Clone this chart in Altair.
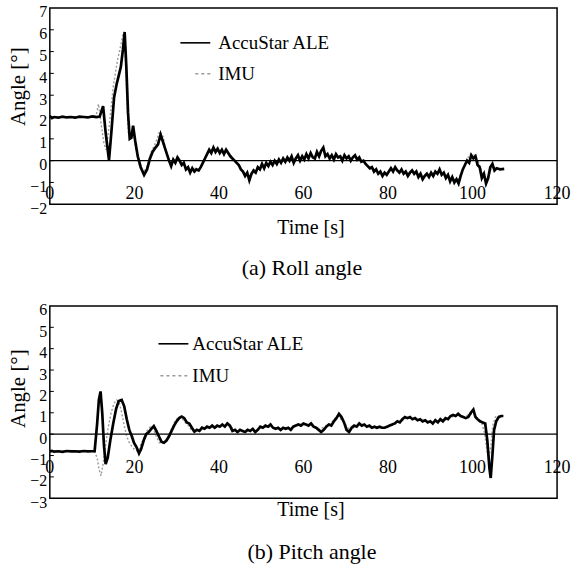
import altair as alt
import pandas as pd

FONT = "Liberation Serif"

# ---------------- data: roll angle ----------------
roll_acc_t = [0,0.5,1,2,3,4,5,6,7,8,9,10,11,11.8,12.6,13.2,14.0,14.6,15.2,15.8,16.3,16.8,17.3,17.7,18.1,18.5,18.9,19.3,19.7,20.2,20.8,21.5,22.3,23.0,23.7,24.3,25.0,25.6,26.2,26.7,27.2,27.7,28.2,28.7,29.2,29.7,30.2,30.7,31.2,31.7,32.2,32.7,33.2,33.7,34.2,34.7,35.2,35.7,36.2,36.7,37.2,37.7,38.2,38.7,39.2,39.7,40.2,40.7,41.2,41.7,42.2,42.7,43.2,43.7,44.2,44.7,45.2,45.7,46.2,46.7,47.2,47.7,48.2,48.7,49.2,49.7,50.2,50.7,51.2,51.7,52.2,52.7,53.2,53.7,54.2,54.7,55.2,55.7,56.2,56.7,57.2,57.7,58.2,58.7,59.2,59.7,60.2,60.7,61.2,61.7,62.2,62.7,63.2,63.7,64.2,64.7,65.2,65.7,66.2,66.7,67.2,67.7,68.2,68.7,69.2,69.7,70.2,70.7,71.2,71.7,72.2,72.7,73.2,73.7,74.2,74.7,75.2,75.7,76.2,76.7,77.2,77.7,78.2,78.7,79.2,79.7,80.2,80.7,81.2,81.7,82.2,82.7,83.2,83.7,84.2,84.7,85.2,85.7,86.2,86.7,87.2,87.7,88.2,88.7,89.2,89.7,90.2,90.7,91.2,91.7,92.2,92.7,93.2,93.7,94.2,94.7,95.2,95.7,96.2,96.7,97.2,97.7,98.2,98.7,99.2,99.7,100.2,100.7,101.2,101.7,102.2,102.7,103.2,103.7,104.2,104.7,105.2,105.7,106.5,107.5]
roll_acc_v = [2.05,1.95,2.0,1.97,2.02,1.98,2.0,1.97,2.02,2.0,1.98,2.03,2.0,2.02,2.5,1.3,0.02,1.4,2.9,3.5,3.9,4.3,5.1,5.9,4.3,2.2,1.0,1.05,1.6,0.9,0.2,-0.3,-0.65,-0.4,0.1,0.4,0.6,0.75,1.2,0.9,0.6,0.3,0.0,-0.25,0.05,-0.1,0.15,0.0,-0.2,-0.1,-0.4,-0.3,-0.55,-0.35,-0.5,-0.4,-0.45,-0.3,-0.1,0.1,0.3,0.5,0.35,0.6,0.4,0.55,0.35,0.5,0.3,0.5,0.35,0.2,0.1,0.0,-0.1,-0.2,-0.4,-0.5,-0.7,-0.55,-0.9,-0.6,-0.45,-0.55,-0.3,-0.4,-0.15,-0.35,-0.1,-0.25,-0.05,-0.2,0.0,-0.15,0.05,-0.1,0.1,-0.05,0.15,0.0,0.2,-0.1,0.1,0.25,0.0,0.2,0.05,0.3,0.1,0.35,0.15,0.1,0.4,0.2,0.45,0.6,0.2,0.3,0.1,0.25,0.05,0.3,0.15,0.2,0.0,0.25,0.1,0.2,0.0,0.15,0.25,0.05,0.15,-0.05,0.0,-0.15,-0.25,-0.35,-0.3,-0.5,-0.4,-0.6,-0.5,-0.7,-0.55,-0.65,-0.5,-0.35,-0.5,-0.3,-0.45,-0.55,-0.4,-0.6,-0.5,-0.7,-0.55,-0.45,-0.6,-0.5,-0.75,-0.6,-0.85,-0.7,-0.6,-0.75,-0.55,-0.7,-0.5,-0.6,-0.4,-0.65,-0.55,-0.8,-0.65,-0.95,-0.75,-1.0,-0.85,-1.05,-0.7,-0.4,-0.2,0.0,-0.1,0.25,0.1,0.2,-0.2,-0.3,-0.8,-0.6,-1.05,-0.8,-0.3,-0.15,-0.45,-0.35,-0.4,-0.38]

roll_imu_t = [0,1,2,3,4,5,6,7,8,9,10,11,11.5,12.2,12.8,13.3,14,15,16,16.8,17.3,17.7,18.2,18.6,19.2,19.8,20.5,21.3,22.2,23,24,25,26,26.8,27.5,28.5,29.5,30.5,31.5,32.5,33.5,34.5,35.5,36.5,37.5,38.5,39.5,40.5,41.5,42.5,43.5,44.5,45.5,46.5,47.5,48.5,49.5,50.5,51.5,52.5,53.5,54.5,55.5,56.5,57.5,58.5,59.5,60.5,61.5,62.5,63.5,64.5,65.5,66.5,67.5,68.5,69.5,70.5,71.5,72.5,73.5,74.5,75.5,76.5,77.5,78.5,79.5,80.5,81.5,82.5,83.5,84.5,85.5,86.5,87.5,88.5,89.5,90.5,91.5,92.5,93.5,94.5,95.5,96.5,97.5,98.5,99.5,100.5,101.5,102.5,103.5,104.5,105.5,106.5]
roll_imu_v = [2.0,2.0,2.0,2.0,2.0,2.0,2.0,2.0,2.0,2.0,2.0,2.1,2.6,1.6,0.8,0.5,1.5,3.4,4.6,5.3,5.8,5.5,3.0,1.2,1.3,1.2,0.4,-0.3,-0.55,-0.25,0.4,0.8,1.35,1.1,0.4,-0.1,0.0,0.1,-0.2,-0.4,-0.45,-0.35,-0.4,0.0,0.4,0.55,0.45,0.4,0.5,0.3,0.05,-0.2,-0.45,-0.7,-0.7,-0.45,-0.3,-0.25,-0.15,-0.1,-0.05,0.0,0.05,0.05,0.1,0.15,0.1,0.2,0.25,0.15,0.3,0.5,0.25,0.2,0.15,0.2,0.15,0.15,0.1,0.15,0.0,-0.1,-0.3,-0.4,-0.55,-0.6,-0.6,-0.45,-0.4,-0.5,-0.5,-0.6,-0.5,-0.55,-0.65,-0.75,-0.65,-0.6,-0.55,-0.55,-0.65,-0.8,-0.85,-0.9,-0.5,0.0,0.3,0.25,-0.1,-0.7,-0.9,-0.3,-0.35,-0.4]

# ---------------- data: pitch angle ----------------
pitch_acc_t = [0,0.5,1,2,3,4,5,6,7,8,9,10,10.6,11.2,11.6,12.0,12.4,12.8,13.2,13.7,14.3,15.0,15.7,16.3,17.0,17.6,18.2,18.8,19.4,19.9,20.5,21.1,21.6,22.2,22.8,23.4,24.0,24.6,25.2,25.8,26.4,27.0,27.6,28.2,28.8,29.4,30.0,30.6,31.2,31.8,32.4,33.0,33.6,34.2,34.8,35.4,36.0,36.6,37.2,37.8,38.4,39.0,39.6,40.2,40.8,41.4,42.0,42.6,43.2,43.8,44.4,45.0,45.6,46.2,46.8,47.4,48.0,48.6,49.2,49.8,50.4,51.0,51.6,52.2,52.8,53.4,54.0,54.6,55.2,55.8,56.4,57.0,57.6,58.2,58.8,59.4,60.0,60.6,61.2,61.8,62.4,63.0,63.6,64.2,64.8,65.4,66.0,66.6,67.2,67.8,68.4,69.0,69.6,70.2,70.8,71.4,72.0,72.6,73.2,73.8,74.4,75.0,75.6,76.2,76.8,77.4,78.0,78.6,79.2,79.8,80.4,81.0,81.6,82.2,82.8,83.4,84.0,84.6,85.2,85.8,86.4,87.0,87.6,88.2,88.8,89.4,90.0,90.6,91.2,91.8,92.4,93.0,93.6,94.2,94.8,95.4,96.0,96.6,97.2,97.8,98.4,99.0,99.6,100.2,100.7,101.2,101.8,102.4,103.0,103.5,104.0,104.3,104.7,105.1,105.6,106.2,106.8,107.3]
pitch_acc_v = [-0.8,-0.78,-0.82,-0.8,-0.83,-0.79,-0.81,-0.8,-0.82,-0.79,-0.81,-0.8,-0.8,0.5,1.6,2.0,1.0,-0.5,-1.4,-1.1,-0.3,0.5,1.2,1.55,1.6,1.3,0.7,0.2,-0.1,-0.4,-0.6,-0.9,-0.7,-0.3,0.0,0.1,0.25,0.38,0.15,-0.1,-0.35,-0.4,-0.3,-0.1,0.15,0.4,0.6,0.75,0.82,0.75,0.55,0.5,0.3,0.12,0.2,0.15,0.3,0.25,0.35,0.3,0.4,0.3,0.4,0.35,0.45,0.35,0.5,0.4,0.15,0.2,0.1,0.2,0.15,0.1,0.2,0.15,0.25,0.1,0.2,0.35,0.3,0.4,0.35,0.45,0.3,0.25,0.3,0.2,0.3,0.25,0.3,0.2,0.35,0.4,0.45,0.4,0.5,0.45,0.4,0.5,0.35,0.3,0.2,0.1,0.2,0.35,0.45,0.4,0.6,0.75,0.95,0.8,0.55,0.2,0.1,0.3,0.4,0.35,0.5,0.4,0.45,0.35,0.4,0.3,0.35,0.3,0.35,0.3,0.3,0.35,0.4,0.45,0.5,0.6,0.55,0.7,0.8,0.75,0.8,0.7,0.75,0.65,0.7,0.6,0.65,0.55,0.6,0.5,0.65,0.55,0.7,0.6,0.75,0.7,0.85,0.9,0.85,0.95,0.85,0.8,0.75,0.8,1.0,1.15,0.8,0.7,0.6,0.55,0.5,-0.3,-1.6,-2.05,-1.0,0.2,0.6,0.8,0.85,0.85]

pitch_imu_t = [0,1,2,3,4,5,6,7,8,9,10,10.6,11.2,11.6,12.1,12.6,13.2,13.8,14.5,15.2,15.8,16.4,17.0,17.6,18.2,18.8,19.5,20.2,20.9,21.5,22.2,23.0,23.8,24.5,25.2,25.9,26.6,27.3,28.0,28.8,29.6,30.4,31.2,32.0,32.8,33.6,35,36.5,38,39.5,41,42.5,44,45.5,47,48.5,50,51.5,53,54.5,56,57.5,59,60.5,62,63.5,65,66.5,68,69.5,71,72.5,74,75.5,77,78.5,80,81.5,83,84.5,86,87.5,89,90.5,92,93.5,95,96.5,98,99.5,100.5,101.5,102.2,102.8,103.3,103.8,104.3,104.8,105.4,106.2,107.0]
pitch_imu_v = [-0.8,-0.8,-0.8,-0.8,-0.8,-0.8,-0.8,-0.8,-0.8,-0.8,-0.8,-0.85,-1.1,-1.6,-1.95,-1.4,-0.5,0.3,1.0,1.45,1.6,1.5,1.0,0.4,-0.1,-0.4,-0.6,-0.75,-0.8,-0.5,-0.2,0.15,0.35,0.25,-0.1,-0.4,-0.45,-0.3,-0.1,0.25,0.6,0.8,0.75,0.55,0.4,0.15,0.2,0.3,0.35,0.35,0.4,0.4,0.15,0.15,0.2,0.15,0.3,0.35,0.3,0.25,0.25,0.35,0.45,0.45,0.4,0.2,0.35,0.5,0.85,0.6,0.15,0.4,0.45,0.35,0.3,0.3,0.35,0.45,0.6,0.75,0.75,0.65,0.6,0.55,0.6,0.65,0.8,0.9,0.8,0.95,0.9,0.6,0.5,0.1,-0.6,-1.2,-0.6,0.4,0.8,0.85,0.85]

# ---------------- axis / label texts ----------------
roll_y_ticks = [-2, -1, 0, 1, 2, 3, 4, 5, 6, 7]
pitch_y_ticks = [-3, -2, -1, 0, 1, 2, 3, 4, 5, 6]
x_ticks = [0, 20, 40, 60, 80, 100, 120]
legend_labels = ["AccuStar ALE", "IMU"]
x_title = "Time [s]"
y_title = "Angle [°]"
captions = ["(a) Roll angle", "(b) Pitch angle"]

W = 509
ONE = pd.DataFrame({"k": [0]})


def text_layer(txt, x, y, size, angle=None, align="center"):
    kw = dict(text=txt, font=FONT, fontSize=size, color="black", align=align, baseline="middle")
    if angle is not None:
        kw["angle"] = angle
    return alt.Chart(ONE).mark_text(**kw).encode(x=alt.value(x), y=alt.value(y))


def frame_rule(x0, x1, y):
    # invisible (white) guide that fixes the outer extent of the page layout
    return alt.Chart(ONE).mark_rule(color="white", strokeWidth=1).encode(
        x=alt.value(x0), x2=alt.value(x1), y=alt.value(y))


def panel(acc_t, acc_v, imu_t, imu_v, yticks, H, xlab_y, xtitle_y, cap_x, cap_y,
          ytitle_y, leg, caption, extent_y):
    xs = alt.Scale(domain=[0, 120], nice=False, zero=False)
    ys = alt.Scale(domain=[yticks[0], yticks[-1]], nice=False, zero=False)
    yaxis = alt.Axis(values=yticks, labelFont=FONT, labelFontSize=16, labelColor="black",
                     labelPadding=3, labelOffset=4, domain=False, ticks=False,
                     grid=False, title=None)
    df_acc = pd.DataFrame({"t": acc_t, "v": acc_v})
    df_imu = pd.DataFrame({"t": imu_t, "v": imu_v})
    imu = alt.Chart(df_imu).mark_line(color="#9a9a9a", strokeWidth=1.4,
                                      strokeDash=[2, 2]).encode(
        x=alt.X("t:Q", scale=xs, axis=None),
        y=alt.Y("v:Q", scale=ys, axis=yaxis))
    acc = alt.Chart(df_acc).mark_line(color="black", strokeWidth=2.7).encode(
        x=alt.X("t:Q", scale=xs, axis=None),
        y=alt.Y("v:Q", scale=ys, axis=yaxis))
    zero = alt.Chart(pd.DataFrame({"z": [0]})).mark_rule(color="black", strokeWidth=1.3).encode(
        y=alt.Y("z:Q", scale=ys, axis=yaxis))
    tick_df = pd.DataFrame({"yt": yticks[1:-1]})
    yt_marks = alt.Chart(tick_df).mark_rule(color="black", strokeWidth=1).encode(
        y=alt.Y("yt:Q", scale=ys, axis=yaxis), x=alt.value(0), x2=alt.value(4))
    xlabels = alt.Chart(pd.DataFrame({"xt": x_ticks, "lab": [str(v) for v in x_ticks]})).mark_text(
        font=FONT, fontSize=18, color="black", baseline="middle").encode(
        x=alt.X("xt:Q", scale=xs, axis=None), y=alt.value(xlab_y), text="lab:N")
    lx0, lx1, ltx, ly1, ly2, dx0 = leg
    leg_line = alt.Chart(ONE).mark_rule(color="black", strokeWidth=1.6).encode(
        x=alt.value(lx0), x2=alt.value(lx1), y=alt.value(ly1))
    leg_dash = alt.Chart(ONE).mark_rule(
        color="#9a9a9a", strokeWidth=1.4, strokeDash=[3, 3]).encode(
        x=alt.value(dx0), x2=alt.value(lx1), y=alt.value(ly2))
    leg_t1 = text_layer(legend_labels[0], ltx, ly1, 19, align="left")
    leg_t2 = text_layer(legend_labels[1], ltx, ly2, 19, align="left")
    xt = text_layer(x_title, 262, xtitle_y, 20)
    cap = text_layer(caption, cap_x, cap_y, 22)
    yt = text_layer(y_title, -31, ytitle_y, 21, angle=270)
    ext = frame_rule(-48.5, 527.5, extent_y)
    return alt.layer(ext, imu, acc, zero, yt_marks, xlabels, leg_line, leg_dash, leg_t1, leg_t2,
                     xt, cap, yt).properties(width=W, height=H)


top = panel(roll_acc_t, roll_acc_v, roll_imu_t, roll_imu_v, roll_y_ticks, 197,
            187, 221, 253, 261, 79, (131, 161, 169, 35, 66, 146), captions[0], -5.5)
bottom = panel(pitch_acc_t, pitch_acc_v, pitch_imu_t, pitch_imu_v, pitch_y_ticks, 193,
               163, 205, 263, 247, 83, (109, 139, 143, 38, 70, 111), captions[1], 262.5)

chart = alt.vconcat(top, bottom, spacing=102, bounds="flush").properties(
    padding=0,
    background="white",
).configure_view(stroke="black", strokeWidth=1.5)

chart.save("out.html", embed_options={"renderer": "svg", "actions": False})
